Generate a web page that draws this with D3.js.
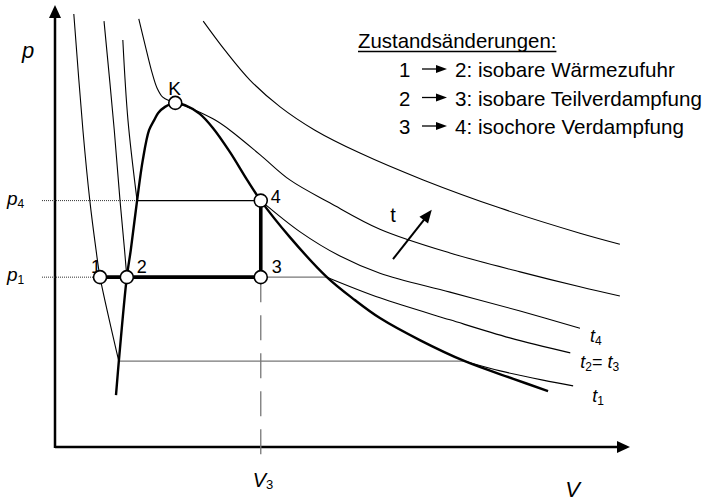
<!DOCTYPE html>
<html>
<head>
<meta charset="utf-8">
<script src="https://cdn.jsdelivr.net/npm/d3@7"></script>
<style>
  html, body { margin: 0; padding: 0; background: #fff; }
  svg { display: block; font-family: "Liberation Sans", Arial, sans-serif; }
</style>
</head>
<body>
<svg id="chart" width="718" height="501"></svg>
<script>
// p-V diagram of a pure substance: saturation dome, isotherms and the process 1-2-3-4

// Saturation curve (boiling line and dew line), meeting at the critical point K
const domeLiquid = [[10.7,11.8],[11.2,19.5],[12.6,38.6],[13.3,44.8],[14.4,56.0],[15.4,65.2],[16.5,72.0],[17.4,74.3],[18.1,75.9],[19.3,77.3],[21.1,78.2]];
const domeVapour = [[21.1,78.2],[22.8,77.7],[25.4,75.7],[27.7,72.5],[30.7,67.0],[33.7,60.7],[36.1,56.0],[41.2,47.7],[47.7,38.6],[52.6,33.4],[57.0,29.3],[64.0,24.3],[71.9,19.5],[80.4,15.5],[86.5,12.7]];

// Isotherm t1
const t1Liquid = [[3.3,98.4],[4.9,72.0],[6.1,56.1],[7.2,44.8],[7.9,38.6],[11.2,19.5]];
const t1Wet = [[11.2,19.5],[71.9,19.5]];
const t1Vapour = [[71.9,19.5],[78.1,17.3],[85.6,15.2],[90.9,13.9]];

// Isotherm t2 = t3
const t23Liquid = [[8.6,96.8],[10.4,72.0],[11.4,56.1],[12.2,44.8],[12.6,38.6]];
const t23Wet = [[36.1,38.6],[47.7,38.6]];
const t23Vapour = [[47.7,38.6],[57.0,33.9],[69.3,28.9],[79.8,24.8],[90.4,21.4]];

// Isotherm t4
const t4Liquid = [[11.9,92.5],[12.8,74.3],[14.4,56.0]];
const t4Wet = [[14.4,56.0],[36.1,56.0]];
const t4Vapour = [[36.1,56.0],[43.0,48.9],[50.0,43.4],[57.0,39.5],[69.3,35.2],[81.6,30.9],[92.1,27.0]];

// Critical isotherm through K and one supercritical isotherm
const tCritical = [[14.7,97.3],[15.8,91.4],[17.0,85.2],[17.9,81.6],[18.9,79.5],[20.2,78.6],[21.1,78.2],[22.8,77.5],[25.4,76.1],[28.1,74.3],[30.7,72.0],[36.0,66.4],[41.2,60.7],[48.2,55.5],[57.0,49.5],[69.3,44.1],[81.6,39.8],[92.1,36.4],[99.1,34.3]];
const tUpper = [[26.0,96.8],[29.8,90.2],[34.2,83.4],[39.5,77.3],[45.6,72.0],[53.5,66.8],[64.6,60.7],[78.1,54.3],[92.1,48.6],[99.1,46.1]];

// State points
const stateNames = ["1", "2", "3", "4", "K"];
const stateV = [7.9, 12.6, 36.1, 36.1, 21.1];
const stateP = [38.6, 38.6, 38.6, 56.0, 78.2];

// Process path 1 -> 2 -> 3 -> 4
const processPath = [[7.9,38.6],[12.6,38.6],[36.1,38.6],[36.1,56.0]];

// Axis marks
const pTickValues = [56.0, 38.6];
const pTickSubs = ["4", "1"];
const pTickEnds = [14.4, 7.9];     // dotted guide runs from the axis to these volumes
const vTickValues = [36.1];
const vTickSubs = ["3"];

// Legend
const legendTitle = "Zustandsänderungen:";
const legendFrom = ["1", "2", "3"];
const legendText = ["2: isobare Wärmezufuhr", "3: isobare Teilverdampfung", "4: isochore Verdampfung"];

// Anchor points of the isotherm labels t4, t2 = t3, t1
const isoLabelPos = [[92.1,27.0],[90.4,21.4],[90.9,13.9]];

const svg = d3.select("#chart");
const x = d3.scaleLinear().domain([0, 100]).range([55, 625]);
const y = d3.scaleLinear().domain([0, 100]).range([447, 7]);

const line = d3.line().x(d => x(d[0])).y(d => y(d[1])).curve(d3.curveCatmullRom.alpha(0.5));
const straight = d3.line().x(d => x(d[0])).y(d => y(d[1]));

// --- axes with arrow heads ---
const axisG = svg.append("g");
const x0 = x(0), y0 = y(0);
const xEnd = x.range()[1] + 5, yEnd = y.range()[1] - 2;
axisG.append("line").attr("x1", x0).attr("y1", y0).attr("x2", xEnd - 8).attr("y2", y0)
  .attr("stroke", "#000").attr("stroke-width", 2.5);
axisG.append("path").attr("d", `M${xEnd},${y0} L${xEnd-13},${y0-6} L${xEnd-13},${y0+6} Z`).attr("fill", "#000");
axisG.append("line").attr("x1", x0).attr("y1", y0 + 1).attr("x2", x0).attr("y2", yEnd + 8)
  .attr("stroke", "#000").attr("stroke-width", 2.5);
axisG.append("path").attr("d", `M${x0},${yEnd} L${x0-6},${yEnd+13} L${x0+6},${yEnd+13} Z`).attr("fill", "#000");

// axis titles
svg.append("text").attr("x", x0 - 33).attr("y", y(100) + 51)
  .attr("font-size", 22).attr("font-style", "italic").text("p");
svg.append("text").attr("x", x(89.5)).attr("y", y0 + 50)
  .attr("font-size", 22).attr("font-style", "italic").text("V");

// pressure guides (dotted) and labels
pTickValues.forEach((pv, i) => {
  svg.append("line").attr("x1", x0 - 13).attr("x2", x(pTickEnds[i]))
    .attr("y1", y(pv)).attr("y2", y(pv))
    .attr("stroke", "#333").attr("stroke-width", 1).attr("stroke-dasharray", "1,1");
  const t = svg.append("text").attr("x", x0 - 48).attr("y", y(pv) + 4).attr("font-size", 19);
  t.append("tspan").attr("font-style", "italic").text("p");
  t.append("tspan").attr("font-size", 12).attr("dy", 3).text(pTickSubs[i]);
});

// volume guide (dashed) and label
vTickValues.forEach((vv, i) => {
  svg.append("line").attr("x1", x(vv)).attr("x2", x(vv))
    .attr("y1", y(38.6)).attr("y2", y0 + 8)
    .attr("stroke", "#777").attr("stroke-width", 1.3).attr("stroke-dasharray", "25,13");
  const t = svg.append("text").attr("x", x(vv) - 8).attr("y", y0 + 40).attr("font-size", 20);
  t.append("tspan").attr("font-style", "italic").text("V");
  t.append("tspan").attr("font-size", 13).attr("dy", 2).text(vTickSubs[i]);
});

// --- isotherms ---
const thin = (d, color = "#000", w = 1.1) =>
  svg.append("path").attr("d", d).attr("fill", "none").attr("stroke", color).attr("stroke-width", w);

thin(line(tUpper));
thin(line(tCritical));
thin(line(t4Liquid)); thin(straight(t4Wet)); thin(line(t4Vapour));
thin(line(t23Liquid)); thin(straight(t23Wet), "#777", 1.3); thin(line(t23Vapour));
thin(line(t1Liquid)); thin(straight(t1Wet), "#777", 1.3); thin(line(t1Vapour));

// --- saturation dome ---
svg.append("path").attr("d", line(domeLiquid.concat(domeVapour.slice(1))))
  .attr("fill", "none").attr("stroke", "#000").attr("stroke-width", 2.4);

// --- process path ---
svg.append("path").attr("d", straight(processPath))
  .attr("fill", "none").attr("stroke", "#000").attr("stroke-width", 3.6);

// --- state point labels (drawn first so the markers sit on top) ---
const stateLabelDx = [-9, 10, 11, 10, -7];
const stateLabelDy = [-4, -4, -4, 2, -8];
stateNames.forEach((n, i) => {
  svg.append("text").attr("x", x(stateV[i]) + stateLabelDx[i]).attr("y", y(stateP[i]) + stateLabelDy[i])
    .attr("font-size", n === "K" ? 19 : 18).text(n);
});
stateNames.forEach((n, i) => {
  svg.append("circle").attr("cx", x(stateV[i])).attr("cy", y(stateP[i])).attr("r", 6.5)
    .attr("fill", "#fff").attr("stroke", "#000").attr("stroke-width", 1.6);
});

// --- isotherm labels ---
const lab1 = svg.append("text").attr("x", x(isoLabelPos[0][0]) + 10).attr("y", y(isoLabelPos[0][1]) + 14).attr("font-size", 18);
lab1.append("tspan").attr("font-style", "italic").text("t");
lab1.append("tspan").attr("font-size", 12).attr("dy", 3).text("4");

const lab2 = svg.append("text").attr("x", x(isoLabelPos[1][0]) + 10).attr("y", y(isoLabelPos[1][1]) + 15).attr("font-size", 18);
lab2.append("tspan").attr("font-style", "italic").text("t");
lab2.append("tspan").attr("font-size", 12).attr("dy", 3).text("2");
lab2.append("tspan").attr("dy", -3).text("= ");
lab2.append("tspan").attr("font-style", "italic").text("t");
lab2.append("tspan").attr("font-size", 12).attr("dy", 3).text("3");

const lab3 = svg.append("text").attr("x", x(isoLabelPos[2][0]) + 19).attr("y", y(isoLabelPos[2][1]) + 16).attr("font-size", 18);
lab3.append("tspan").attr("font-style", "italic").text("t");
lab3.append("tspan").attr("font-size", 12).attr("dy", 3).text("1");

// --- temperature direction arrow ---
const arrowFrom = [59.3, 42.7], arrowTo = [66.1, 53.9];
const ax1 = x(arrowFrom[0]), ay1 = y(arrowFrom[1]), ax2 = x(arrowTo[0]), ay2 = y(arrowTo[1]);
const ang = Math.atan2(ay2 - ay1, ax2 - ax1);
const hl = 13, hw = 5.5;
svg.append("line").attr("x1", ax1).attr("y1", ay1)
  .attr("x2", ax2 - Math.cos(ang) * hl * 0.8).attr("y2", ay2 - Math.sin(ang) * hl * 0.8)
  .attr("stroke", "#000").attr("stroke-width", 2);
const bx = ax2 - Math.cos(ang) * hl, by = ay2 - Math.sin(ang) * hl;
svg.append("path")
  .attr("d", `M${ax2},${ay2} L${bx - Math.sin(ang) * hw},${by + Math.cos(ang) * hw} L${bx + Math.sin(ang) * hw},${by - Math.cos(ang) * hw} Z`)
  .attr("fill", "#000");
svg.append("text").attr("x", ax1).attr("y", ay1 - 37).attr("text-anchor", "middle")
  .attr("font-size", 20).text("t");

// --- legend ---
const lg = svg.append("g");
const title = lg.append("text").attr("x", 358).attr("y", 48).attr("font-size", 20.4).text(legendTitle);
const tw = title.node().getComputedTextLength();
lg.append("line").attr("x1", 358).attr("x2", 358 + tw).attr("y1", 51.5).attr("y2", 51.5)
  .attr("stroke", "#000").attr("stroke-width", 1.3);
legendFrom.forEach((f, i) => {
  const by0 = 77 + i * 28.5;
  lg.append("text").attr("x", 399).attr("y", by0).attr("font-size", 20.4).text(f);
  lg.append("line").attr("x1", 422).attr("x2", 438).attr("y1", by0 - 8).attr("y2", by0 - 8)
    .attr("stroke", "#000").attr("stroke-width", 1.3);
  lg.append("path").attr("d", `M447,${by0 - 8} L436,${by0 - 12} L436,${by0 - 4} Z`).attr("fill", "#000");
  lg.append("text").attr("x", 455).attr("y", by0).attr("font-size", 20.6).text(legendText[i]);
});
</script>
</body>
</html>
